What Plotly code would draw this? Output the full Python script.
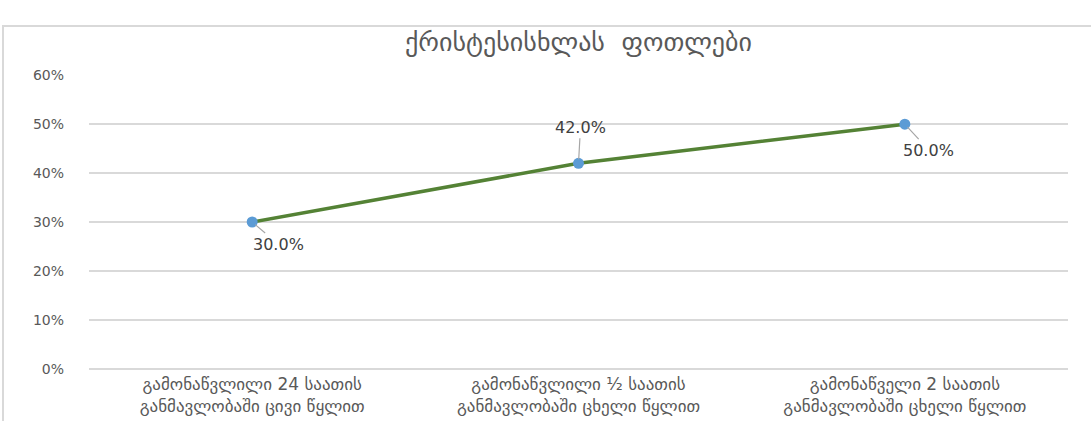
import plotly.graph_objects as go

title_text = "ქრისტესისხლას  ფოთლები"
categories = [
    "გამონაწვლილი 24 საათის<br>განმავლობაში ცივი წყლით",
    "გამონაწვლილი ½ საათის<br>განმავლობაში ცხელი წყლით",
    "გამონაწველი 2 საათის<br>განმავლობაში ცხელი წყლით",
]
values = [0.30, 0.42, 0.50]
value_labels = ["30.0%", "42.0%", "50.0%"]
y_ticks = [0, 0.1, 0.2, 0.3, 0.4, 0.5, 0.6]
y_tick_labels = ["0%", "10%", "20%", "30%", "40%", "50%", "60%"]

W, H = 1091, 421
ML, MR, MT, MB = 89, 23, 75, 52
pw = W - ML - MR
ph = H - MT - MB

fig = go.Figure()
fig.add_trace(go.Scatter(
    x=categories, y=values, mode="lines+markers",
    line=dict(color="#548235", width=3.5),
    marker=dict(color="#5B9BD5", size=11),
    hoverinfo="skip", showlegend=False,
))

label_offsets = [(26, 22), (2, -36), (24, 26)]
for c, v, t, (ax, ay) in zip(categories, values, value_labels, label_offsets):
    fig.add_annotation(
        x=c, y=v, text=t, showarrow=True, arrowhead=0, arrowwidth=1.2,
        arrowcolor="#A6A6A6", ax=ax, ay=ay, standoff=4,
        font=dict(family="DejaVu Sans", size=16, color="#404040"),
    )

# chart border (only top and left edges fall inside the picture)
fig.add_shape(
    type="rect", xref="paper", yref="paper",
    x0=(3 - ML) / pw, x1=(W + 30 - ML) / pw,
    y0=-(MB + 30) / ph, y1=1 + (MT - 26) / ph,
    line=dict(color="#D9D9D9", width=2), fillcolor="rgba(0,0,0,0)", layer="below",
)

fig.update_layout(
    width=W, height=H,
    margin=dict(l=ML, r=MR, t=MT, b=MB, autoexpand=False),
    paper_bgcolor="white", plot_bgcolor="white",
    title=dict(text=title_text, x=0.5, xref="paper", xanchor="center",
               y=1 - 42 / H, yanchor="middle",
               font=dict(family="DejaVu Sans", size=26, color="#595959")),
    xaxis=dict(range=[-0.5, 2.5], showgrid=False, showline=False, zeroline=False,
               automargin=False,
               tickfont=dict(family="DejaVu Sans", size=17, color="#595959"),
               ticks="", ticklabelstandoff=3),
    yaxis=dict(range=[-0.0005, 0.6005], tickvals=y_ticks, ticktext=y_tick_labels,
               automargin=False,
               showgrid=True, gridcolor="#D9D9D9", gridwidth=1.5,
               zeroline=True, zerolinecolor="#D9D9D9", zerolinewidth=1.5,
               showline=False, ticks="",
               ticklabelstandoff=24,
               tickfont=dict(family="DejaVu Sans", size=14, color="#595959")),
)

fig.write_html("out.html", config={"displayModeBar": False},
               post_script="document.body.style.margin='0';")
